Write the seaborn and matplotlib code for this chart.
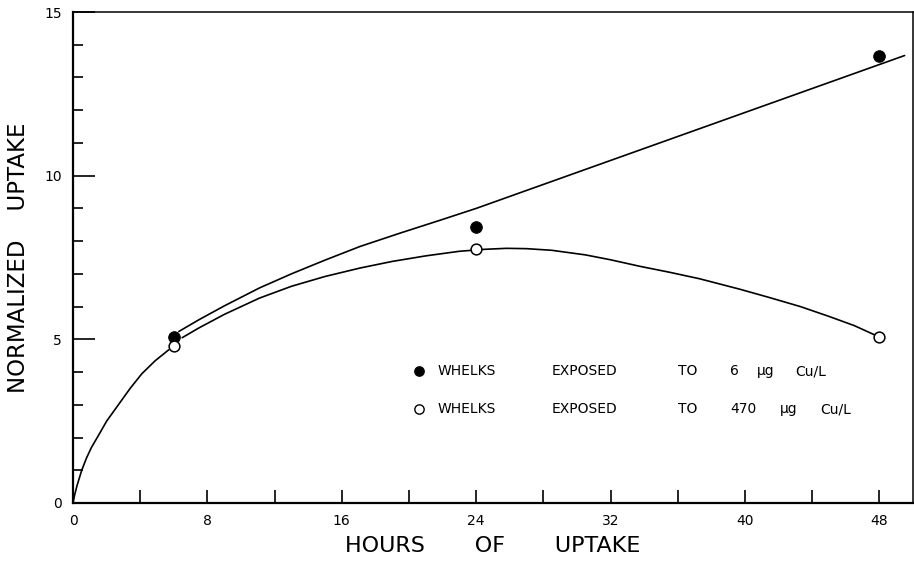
import matplotlib
matplotlib.use("Agg")
import matplotlib.pyplot as plt
from matplotlib.ticker import MultipleLocator
import seaborn as sns
import pandas as pd

# measured points
hours = [6, 24, 48]
low_cu = [5.08, 8.43, 13.65]     # 6 ug Cu/L, filled
high_cu = [4.81, 7.77, 5.07]     # 470 ug Cu/L, open

# hand-drawn fit curves
rise_x = [0, 0.1, 0.25, 0.52, 0.8, 1.1, 1.5, 2.0, 2.7, 3.4, 4.1, 4.9, 5.7]
rise_y = [0, 0.25, 0.55, 1.0, 1.37, 1.7, 2.05, 2.5, 3.0, 3.5, 3.95, 4.35, 4.68]
upper_x = [6.3, 7.5, 9.0, 11.1, 13.0, 15.0, 17.1, 19.5, 21.8, 24.0, 49.5]
upper_y = [5.24, 5.6, 6.02, 6.57, 7.0, 7.42, 7.84, 8.25, 8.63, 9.0, 13.67]
lower_x = [6.5, 7.5, 9.0, 11.1, 13.0, 15.0, 17.1, 19.0, 21.0, 23.0, 24.5, 25.8, 27.0,
           28.5, 30.5, 32.0, 33.75, 35.5, 37.3, 39.7, 41.5, 43.3, 45.0, 46.5, 48.0]
lower_y = [5.05, 5.35, 5.76, 6.26, 6.62, 6.92, 7.18, 7.38, 7.55, 7.69, 7.75, 7.78, 7.77,
           7.72, 7.58, 7.43, 7.23, 7.05, 6.85, 6.53, 6.27, 6.0, 5.7, 5.42, 5.07]

x_ticks = [0, 8, 16, 24, 32, 40, 48]
y_ticks = [0, 5, 10, 15]

legend_doses = ["6", "470"]

sns.set_style("ticks")
plt.rcParams['font.family'] = ['DejaVu Sans']
plt.rcParams['text.color'] = 'black'
plt.rcParams['axes.labelcolor'] = 'black'
plt.rcParams['xtick.color'] = 'black'
plt.rcParams['ytick.color'] = 'black'
plt.rcParams['axes.edgecolor'] = 'black'

fig = plt.figure(figsize=(9.14, 5.64), dpi=100)
ax = fig.add_axes([73 / 914, 61 / 564, 840 / 914, 491 / 564])

for xs, ys in [(rise_x, rise_y), (upper_x, upper_y), (lower_x, lower_y)]:
    sns.lineplot(x=xs, y=ys, ax=ax, color="black", linewidth=1.2, sort=False, estimator=None)

pts = pd.DataFrame({"hours": hours * 2, "uptake": low_cu + high_cu,
                    "group": ["low"] * 3 + ["high"] * 3})
sns.scatterplot(data=pts[pts.group == "low"], x="hours", y="uptake", ax=ax,
                color="black", edgecolor="black", s=70, zorder=5, legend=False)
sns.scatterplot(data=pts[pts.group == "high"], x="hours", y="uptake", ax=ax,
                color="white", edgecolor="black", linewidth=1.1, s=60, zorder=5, legend=False)

ax.set_xlim(0, 50)
ax.set_ylim(0, 15)
ax.set_xticks(x_ticks)
ax.set_yticks(y_ticks)
ax.xaxis.set_minor_locator(MultipleLocator(4))
ax.yaxis.set_minor_locator(MultipleLocator(1))
ax.tick_params(axis="x", which="both", direction="in", length=9.5, width=1.2,
               labelsize=10, pad=8)
ax.tick_params(axis="y", which="major", direction="in", length=16, width=1.2,
               labelsize=10, pad=8)
ax.tick_params(axis="y", which="minor", direction="in", length=7, width=1.2)

for side in ["left", "bottom"]:
    ax.spines[side].set_linewidth(1.6)
for side in ["top", "right"]:
    ax.spines[side].set_linewidth(1.1)

ax.set_xlabel("HOURS       OF       UPTAKE", fontsize=16, labelpad=6)
ax.set_ylabel("NORMALIZED    UPTAKE", fontsize=16.5, labelpad=10)

# legend drawn as text rows
row_y = [4.02, 2.87]
row_faces = ["black", "white"]
unit_x = [(40.7, 43.0), (42.1, 44.5)]
for face, dose, yv, (ug_x, cu_x) in zip(row_faces, legend_doses, row_y, unit_x):
    ax.scatter([20.6], [yv], s=45, color=face, edgecolor="black", linewidth=1.0, zorder=5)
    ax.text(21.7, yv, "WHELKS", fontsize=10, va="center")
    ax.text(28.5, yv, "EXPOSED", fontsize=10, va="center")
    ax.text(36.0, yv, "TO", fontsize=10, va="center")
    ax.text(39.1, yv, dose, fontsize=10, va="center")
    ax.text(ug_x, yv, "\u00b5g", fontsize=10, va="center")
    ax.text(cu_x, yv, "Cu/L", fontsize=10, va="center")

fig.savefig("out.png", dpi=100)
